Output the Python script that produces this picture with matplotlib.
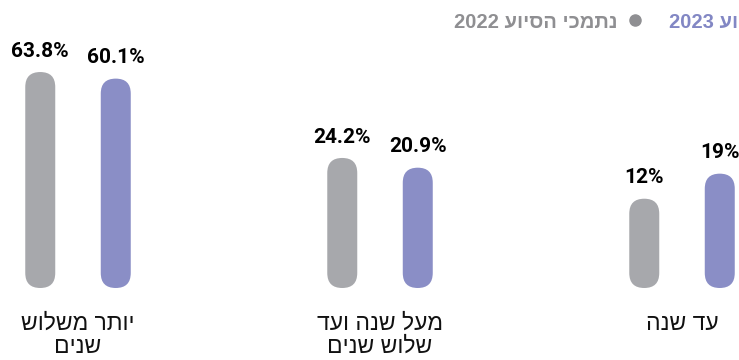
import re

import matplotlib
matplotlib.use("Agg")
import matplotlib.pyplot as plt
import numpy as np
from matplotlib.lines import Line2D
from matplotlib.patches import BoxStyle, FancyBboxPatch
from matplotlib.transforms import IdentityTransform

# categories are listed right to left (Hebrew reading order)
categories = ["עד שנה", "מעל שנה ועד\nשלוש שנים", "יותר משלוש\nשנים"]
values_2022 = [12.0, 24.2, 63.8]
values_2023 = [19.0, 20.9, 60.1]
legend_2022 = "נתמכי הסיוע 2022"
legend_2023 = "נתמכי הסיוע 2023"

GRAY = "#a7a8ac"
PURPLE = "#8a8ec6"
GRAY_TXT = "#8f8f92"
PURPLE_TXT = "#8287c4"


def visual(s):
    # matplotlib has no bidi support: flip each line, keep digit runs LTR
    lines = []
    for line in s.split("\n"):
        r = line[::-1]
        r = re.sub(r"\d+", lambda m: m.group(0)[::-1], r)
        lines.append(r)
    return "\n".join(lines)


HEB_FONT = ["Liberation Sans Narrow", "Liberation Sans", "DejaVu Sans"]
LEG_FONT = ["Liberation Sans", "DejaVu Sans"]
NUM_FONT = ["Roboto", "DejaVu Sans"]

fig = plt.figure(figsize=(7.39, 3.6), dpi=100)
ax = fig.add_axes([0, 0.2, 1, 0.8])
ax.set_yscale("function", functions=(np.sqrt, np.square))
ax.set_ylim(0.076, 111.5)
ax.set_xlim(2.2583, -0.1887)
for s in ax.spines.values():
    s.set_visible(False)
ax.set_yticks([])

x = np.arange(len(categories))
width = 0.0993
off = 0.125
base = ax.get_ylim()[0]

bars_22 = ax.bar(x + off, np.array(values_2022) - base, width, bottom=base, color=GRAY)
bars_23 = ax.bar(x - off, np.array(values_2023) - base, width, bottom=base, color=PURPLE)

# swap the plain rectangles for pill shapes drawn in pixel space
for bars, color in ((bars_22, GRAY), (bars_23, PURPLE)):
    for b in bars:
        bb = b.get_window_extent()
        b.set_visible(False)
        pill = FancyBboxPatch(
            (bb.x0, bb.y0), bb.width, bb.height,
            boxstyle=BoxStyle.Round(pad=0, rounding_size=bb.width / 2),
            transform=IdentityTransform(), fc=color, ec="none",
        )
        fig.add_artist(pill)

for xs, vals in ((x + off, values_2022), (x - off, values_2023)):
    for xi, v in zip(xs, vals):
        ax.annotate(f"{v:g}%", xy=(xi, v), xytext=(0, 11), textcoords="offset points",
                    ha="center", va="baseline", fontsize=15, fontweight="bold",
                    family=NUM_FONT, color="black", annotation_clip=False)

ax.set_xticks(x)
ax.set_xticklabels([visual(c) for c in categories], family=HEB_FONT, fontsize=16.5,
                   linespacing=1.02, color="#111111")
ax.tick_params(axis="x", length=0, pad=17)

# legend along the top, running off the right edge
fig.text(618 / 739, 0.922, visual(legend_2022), ha="right", va="baseline",
         fontsize=14.5, fontweight="bold", family=LEG_FONT, color=GRAY_TXT)
fig.add_artist(Line2D([635 / 739], [0.944], marker="o", markersize=8, color=GRAY_TXT,
                      transform=fig.transFigure, linestyle="none"))
fig.text(669 / 739, 0.922, visual(legend_2023), ha="left", va="baseline",
         fontsize=14.5, fontweight="bold", family=LEG_FONT, color=PURPLE_TXT)

fig.savefig("out.png", dpi=100)
